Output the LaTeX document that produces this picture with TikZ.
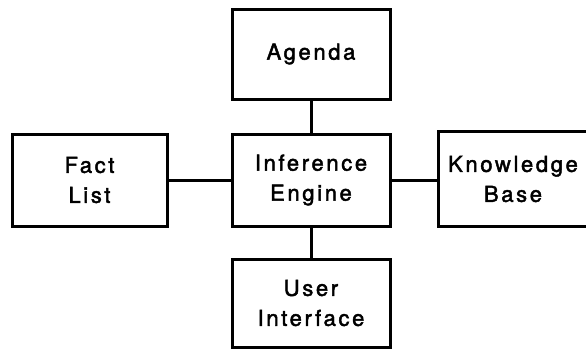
\documentclass[tikz,border=0pt]{standalone}
\usepackage{fontspec}
\setmainfont{TeX Gyre Heros}[LetterSpace=12, FakeBold=2]
\begin{document}
\begin{tikzpicture}[x=1pt,y=-1pt,
  module/.style={draw, line width=3pt, minimum width=158pt, minimum height=90pt,
    inner sep=0pt, align=center, font=\fontsize{22}{30}\selectfont},
  openmodule/.style={module, draw=none},
  link/.style={line width=3pt}]
\useasboundingbox (0,0) rectangle (586,349);
% expert system components
\node[module] (agenda) at (311,54) {Agenda};
\node[module, minimum height=92pt] (engine) at (311,180) {Inference\\Engine};
\node[module, minimum height=88pt] (ui) at (311,303) {User\\Interface};
\node[module, minimum width=155pt, minimum height=92pt] (facts) at (89.5,180) {Fact\\List};
\node[openmodule, minimum width=147pt, minimum height=92pt] (kb) at (513,179) {Knowledge\\Base};
\draw[link] (kb.north east) -- (kb.north west) -- (kb.south west) -- (kb.south east);
% connections to the inference engine
\draw[link] (agenda) -- (engine);
\draw[link] (engine) -- (ui);
\draw[link] (facts) -- (engine);
\draw[link] (engine) -- (kb.west |- engine);
\end{tikzpicture}
\end{document}
